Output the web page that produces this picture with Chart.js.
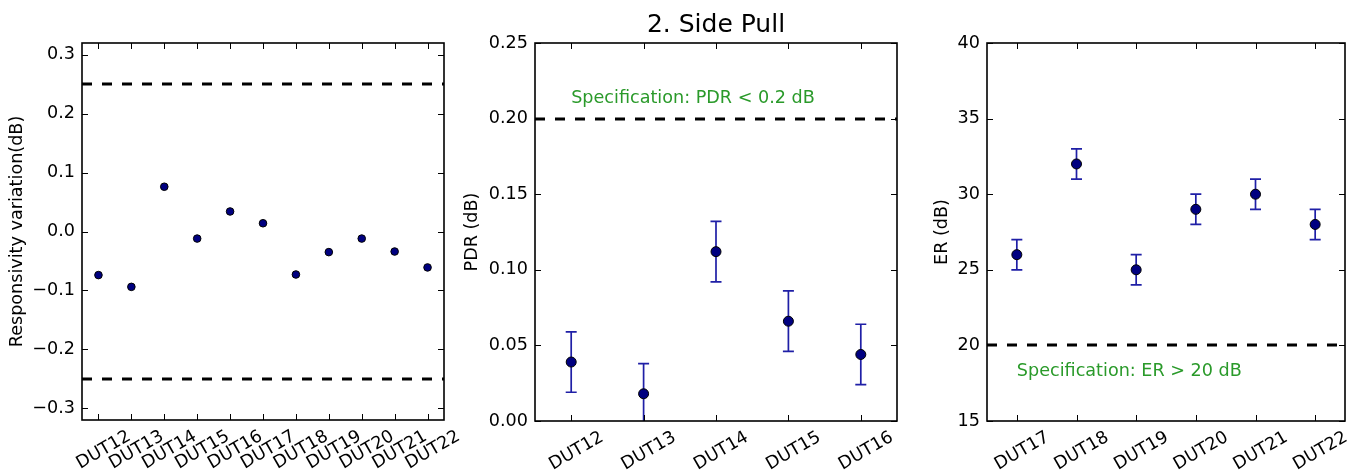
<!DOCTYPE html>
<html>
<head>
<meta charset="utf-8">
<script src="https://cdn.jsdelivr.net/npm/chart.js@4.4.0/dist/chart.umd.min.js"></script>
<style>
  html, body { margin: 0; padding: 0; background: #fff; }
  #wrap { position: relative; width: 1351px; height: 472px; overflow: hidden; }
  canvas { position: absolute; top: 0; }
</style>
</head>
<body>
<div id="wrap">
  <canvas id="c1" width="470" height="472" style="left:0px"></canvas>
  <canvas id="c2" width="470" height="472" style="left:450px"></canvas>
  <canvas id="c3" width="451" height="472" style="left:900px"></canvas>
</div>
<script>
// Panneau 1 : variation de responsivité
const dutsResp = ['DUT12', 'DUT13', 'DUT14', 'DUT15', 'DUT16', 'DUT17', 'DUT18', 'DUT19', 'DUT20', 'DUT21', 'DUT22'];
const respValues = [-0.074, -0.094, 0.076, -0.012, 0.034, 0.014, -0.073, -0.035, -0.012, -0.034, -0.061];
const respTicks = [-0.3, -0.2, -0.1, 0.0, 0.1, 0.2, 0.3];
const respLimits = [0.25, -0.25];

// Panneau 2 : PDR
const dutsPdr = ['DUT12', 'DUT13', 'DUT14', 'DUT15', 'DUT16'];
const pdrValues = [0.039, 0.018, 0.112, 0.066, 0.044];
const pdrErrors = [0.02, 0.02, 0.02, 0.02, 0.02];
const pdrTicks = [0.00, 0.05, 0.10, 0.15, 0.20, 0.25];
const pdrLimits = [0.2];
const pdrNote = { x: 0, y: 0.21, text: 'Specification: PDR < 0.2 dB' };

// Panneau 3 : ER
const dutsEr = ['DUT17', 'DUT18', 'DUT19', 'DUT20', 'DUT21', 'DUT22'];
const erValues = [26, 32, 25, 29, 30, 28];
const erErrors = [1, 1, 1, 1, 1, 1];
const erTicks = [15, 20, 25, 30, 35, 40];
const erLimits = [20];
const erNote = { x: 0, y: 18, text: 'Specification: ER > 20 dB' };

const MARKER = '#000080';
const ERRBAR = '#1f1fa6';
const NOTE_GREEN = '#2a9a2a';
const FONT_SIZE = 17.6;

Chart.defaults.font.family = "'DejaVu Sans', sans-serif";
Chart.defaults.font.size = FONT_SIZE;
Chart.defaults.color = '#000';

function fmtMinus(s) {
    return s.replace('-', '\u2212');
}

// Décor façon matplotlib : cadre, graduations internes, lignes de spec, barres d'erreur, notes
const decor = {
    id: 'decor',
    beforeDatasetsDraw(chart, args, opts) {
        const ctx = chart.ctx;
        const area = chart.chartArea;
        const xs = chart.scales.x;
        const ys = chart.scales.y;
        ctx.save();
        ctx.beginPath();
        ctx.rect(area.left, area.top, area.right - area.left, area.bottom - area.top);
        ctx.clip();
        // lignes de spécification
        ctx.strokeStyle = '#000';
        ctx.lineWidth = 3;
        ctx.setLineDash([10, 10]);
        (opts.limits || []).forEach(v => {
            const py = Math.round(ys.getPixelForValue(v));
            ctx.beginPath();
            ctx.moveTo(area.left, py);
            ctx.lineTo(area.right, py);
            ctx.stroke();
        });
        ctx.setLineDash([]);
        // barres d'erreur
        if (opts.errors) {
            ctx.strokeStyle = ERRBAR;
            ctx.lineWidth = 1.7;
            opts.values.forEach((v, i) => {
                const px = xs.getPixelForValue(i);
                const top = ys.getPixelForValue(v + opts.errors[i]);
                const bot = ys.getPixelForValue(v - opts.errors[i]);
                ctx.beginPath();
                ctx.moveTo(px, top);
                ctx.lineTo(px, bot);
                ctx.moveTo(px - 5.5, top);
                ctx.lineTo(px + 5.5, top);
                ctx.moveTo(px - 5.5, bot);
                ctx.lineTo(px + 5.5, bot);
                ctx.stroke();
            });
        }
        // note verte
        if (opts.note) {
            ctx.fillStyle = NOTE_GREEN;
            ctx.font = FONT_SIZE + "px 'DejaVu Sans', sans-serif";
            ctx.textAlign = 'left';
            ctx.textBaseline = 'alphabetic';
            ctx.fillText(opts.note.text, xs.getPixelForValue(opts.note.x), ys.getPixelForValue(opts.note.y));
        }
        ctx.restore();
    },
    afterDraw(chart) {
        const ctx = chart.ctx;
        const area = chart.chartArea;
        const xs = chart.scales.x;
        const ys = chart.scales.y;
        const len = 6;
        ctx.save();
        ctx.strokeStyle = '#000';
        ctx.lineWidth = 1;
        ctx.beginPath();
        xs.ticks.forEach(t => {
            const px = Math.round(xs.getPixelForValue(t.value)) + 0.5;
            ctx.moveTo(px, area.bottom);
            ctx.lineTo(px, area.bottom - len);
            ctx.moveTo(px, area.top);
            ctx.lineTo(px, area.top + len);
        });
        ys.ticks.forEach(t => {
            const py = Math.round(ys.getPixelForValue(t.value)) + 0.5;
            ctx.moveTo(area.left, py);
            ctx.lineTo(area.left + len, py);
            ctx.moveTo(area.right, py);
            ctx.lineTo(area.right - len, py);
        });
        ctx.stroke();
        ctx.lineWidth = 1.6;
        ctx.strokeRect(area.left, area.top, area.right - area.left, area.bottom - area.top);
        ctx.restore();
    }
};

function creerPanneau(id, p) {
    const points = p.values.map((v, i) => ({ x: i, y: v }));
    return new Chart(document.getElementById(id), {
        type: 'scatter',
        data: {
            datasets: [{
                data: points,
                pointRadius: p.radius,
                pointBackgroundColor: MARKER,
                pointBorderColor: '#000',
                pointBorderWidth: 1
            }]
        },
        options: {
            responsive: false,
            animation: false,
            layout: { padding: p.padding },
            plugins: {
                legend: { display: false },
                tooltip: { enabled: false },
                title: p.title ? {
                    display: true,
                    text: p.title,
                    fullSize: false,
                    font: { size: 25, weight: 'normal' },
                    color: '#000',
                    padding: { top: 10, bottom: 3 }
                } : { display: false },
                decor: { limits: p.limits, errors: p.errors, values: p.values, note: p.note }
            },
            scales: {
                x: {
                    type: 'linear',
                    min: -0.5,
                    max: p.labels.length - 0.5,
                    grid: { display: false, drawTicks: false },
                    border: { display: false },
                    afterBuildTicks: s => { s.ticks = p.labels.map((l, i) => ({ value: i })); },
                    afterFit: s => { s.height = p.xHeight; },
                    ticks: {
                        autoSkip: false,
                        minRotation: 30,
                        maxRotation: 30,
                        padding: 6,
                        labelOffset: 31,
                        callback: v => p.labels[v]
                    }
                },
                y: {
                    min: p.yMin,
                    max: p.yMax,
                    grid: { display: false, drawTicks: false },
                    border: { display: false },
                    afterBuildTicks: s => { s.ticks = p.yTicks.map(v => ({ value: v })); },
                    afterFit: s => { s.width = p.yWidth; },
                    ticks: {
                        padding: 7,
                        callback: v => fmtMinus(v.toFixed(p.decimals))
                    },
                    title: {
                        display: true,
                        text: p.yLabel,
                        padding: { top: p.titlePad, bottom: 0 }
                    }
                }
            }
        },
        plugins: [decor]
    });
}

creerPanneau('c1', {
    labels: dutsResp, values: respValues, yTicks: respTicks, limits: respLimits,
    yMin: -0.32, yMax: 0.32, decimals: 1, radius: 3.8,
    yLabel: 'Responsivity variation(dB)', titlePad: 7,
    padding: { left: 0, right: 26, top: 43, bottom: 0 }, yWidth: 82, xHeight: 52
});

creerPanneau('c2', {
    labels: dutsPdr, values: pdrValues, errors: pdrErrors, yTicks: pdrTicks, limits: pdrLimits,
    note: pdrNote, title: '2. Side Pull',
    yMin: 0, yMax: 0.25, decimals: 2, radius: 5,
    yLabel: 'PDR (dB)', titlePad: 12,
    padding: { left: 0, right: 23, top: 0, bottom: 0 }, yWidth: 85, xHeight: 51
});

creerPanneau('c3', {
    labels: dutsEr, values: erValues, errors: erErrors, yTicks: erTicks, limits: erLimits,
    note: erNote,
    yMin: 15, yMax: 40, decimals: 0, radius: 5,
    yLabel: 'ER (dB)', titlePad: 32,
    padding: { left: 0, right: 1, top: 43, bottom: 0 }, yWidth: 87, xHeight: 51
});
</script>
</body>
</html>
